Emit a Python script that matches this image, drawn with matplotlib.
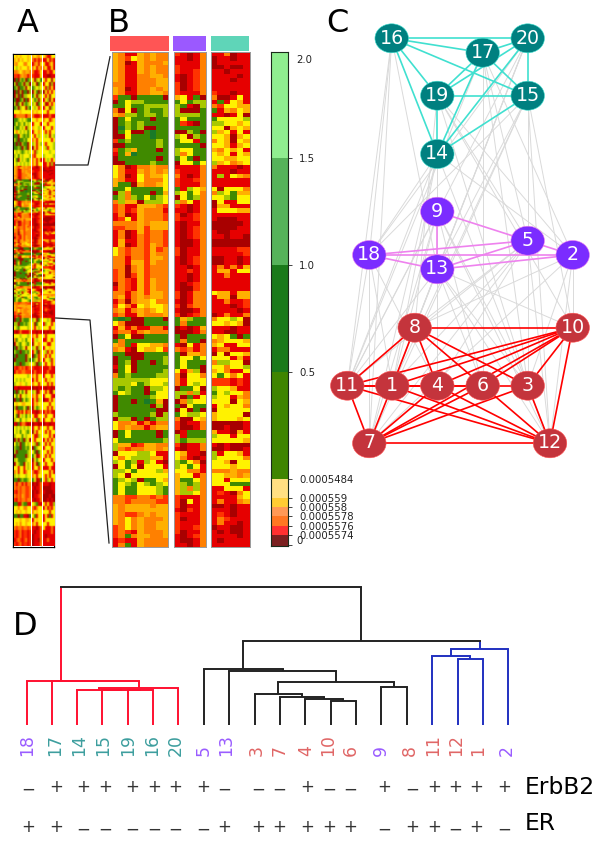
import numpy as np
import matplotlib
matplotlib.use("Agg")
import matplotlib.pyplot as plt
from matplotlib.colors import ListedColormap
from matplotlib.patches import Ellipse, Rectangle

# heat levels: 0 dark red ... 5 yellow ... 8 dark green
level_colors = ["#A80000", "#E60000", "#FF3300", "#FF8000", "#FFB000", "#FFF200", "#A8C800", "#408A00", "#1A7A28"]

# zoomed block B, one row = "9 cols 5 cols 6 cols"
b_rows = [
    "431143433 21013 113011", "432543433 11013 011011", "430143334 11113 011111", "431143433 21113 001001",
    "431143433 21123 110111", "431133443 10123 111101", "431133344 10123 111011", "331133344 20123 111111",
    "430133434 20123 111111", "431133443 21113 211011", "277077770 45170 300151", "075667777 75766 171541",
    "775776666 67106 325544", "305076776 60007 714354", "436676676 66667 110150", "075777077 75777 755556",
    "076767777 72107 665545", "086760077 77777 550454", "075007877 00670 645151", "005777877 65067 554045",
    "276777767 75517 354054", "007777767 77770 554145", "276477707 65577 435451", "174877777 63577 545154",
    "077777707 75707 554455", "007777677 05575 645345", "530133433 11113 311101", "531143434 21113 111011",
    "530153445 31013 161543", "431153335 21123 111111", "477043345 21113 111111", "775777775 71654 505553",
    "063777074 65753 365744", "763675765 05763 556755", "364406665 63513 051155", "231144432 21013 044111",
    "231243331 11013 155544", "130143332 20123 111111", "125143332 21123 100011", "333343444 10113 000001",
    "223342444 10123 000011", "130142332 10123 100111", "130132332 10123 110110", "141132332 10013 000000",
    "140132432 10013 000000", "532332423 20113 111122", "532332433 20113 111112", "331332443 10123 001101",
    "331442433 10123 001101", "330342333 11013 131314", "230342333 11213 144155", "230242333 11013 113111",
    "232142433 11013 111111", "032142433 10123 111111", "132142433 10023 111111", "331342443 20133 544144",
    "341343443 20133 144044", "130344533 10133 113112", "253154554 20233 111012", "341343454 10013 111101",
    "231143334 20123 013113", "787007770 74677 355650", "530007777 73777 554540", "141311331 01014 111011",
    "233134333 00013 110011", "075007777 70777 545707", "737777777 73770 345554", "437155443 10513 451155",
    "341054452 32313 133111", "770007777 70443 050554", "077007776 75575 555141", "076077076 75777 366550",
    "175077777 75770 553556", "075077776 51460 453115", "376777766 30553 575351", "666666555 31555 222121",
    "666576556 31565 222121", "676770665 07750 655411", "756770755 66361 756553", "077777655 60715 655143",
    "077078740 03655 555054", "077777060 70577 154553", "077777700 05070 055555", "677777606 75665 455550",
    "066070766 30054 455545", "533413133 20113 000001", "534331344 20013 001001", "075777707 01777 411041",
    "075777707 61777 655155", "577777776 67666 555554", "644124433 20113 101000", "632334434 10113 001001",
    "055566511 54110 615541", "535666441 53101 655553", "657616510 67530 554055", "057505551 65751 555455",
    "665755564 55331 333433", "650555555 45513 554434", "765607754 47753 551555", "756756765 46763 555777",
    "757755567 46363 115551", "757755567 46653 121035", "332233232 21113 111145", "332333322 20513 131134",
    "434444344 20113 001011", "434444444 10213 111011", "432234344 21113 121011", "435343334 20113 132111",
    "435343344 21113 131101", "235343344 21123 011001", "232143334 20113 101001", "237344334 10123 111101",
    "121143333 10013 101111", "137143333 11013 111111",
]

# block A is the whole table, B is its middle part; these rows are read at a third of the resolution
a_top_rows = [
    "545455545 45435 531155", "453545545 31313 115131", "435553355 13415 511351", "565455535 35143 351151",
    "334543443 31125 113115", "221343313 21115 110011", "070676076 50657 515505", "607760660 65075 155061",
    "760776056 76565 516151", "070607706 05706 051515", "060706655 75065 515055", "700760705 57605 156051",
    "607506765 65075 501515", "760655067 56515 155065", "555455555 45455 551555", "133333133 31113 111311",
    "776565677 55355 355135", "757657565 15551 551555", "677565065 45565 155515", "535656575 15535 515155",
    "770567675 51565 565056", "670776755 35155 555515", "707067705 65156 515556", "776706705 05155 561556",
    "565676565 51655 555655", "657565556 31555 655556", "570565675 35151 156515", "565656565 35155 115161",
]
a_bottom_rows = [
    "077067775 65075 556501", "660776765 50755 165515", "567555565 51565 555155", "101311113 11011 010110",
    "555655565 35155 515555", "375565755 15655 115515", "056755675 05535 551155", "706765055 65065 155455",
    "677077675 15705 561515", "707777065 07615 515155", "077777067 76505 155615", "677077665 56076 515515",
    "212323123 21112 111311", "132233222 13112 113111", "555555565 35155 155515", "565656555 15155 515455",
    "655455655 35515 551515", "110111111 01011 101101", "707575055 65015 515105", "575055655 35155 155511",
    "077075765 15165 011515", "545544555 15355 555155", "607775706 05765 551515", "531315133 11013 131311",
    "570565756 51155 515551", "655755655 35715 155515", "107133101 01101 011011", "565656565 15515 551551",
    "565755675 05155 515155", "655575655 51165 555151", "060670650 51555 151515", "576077565 56175 515155",
    "677077675 07655 155515", "607777765 57075 551515", "077777065 75015 515155", "657777655 05755 155515",
    "056770565 15075 515551", "551551565 15515 111511", "351551355 31135 555151", "656555655 35155 515155",
    "770767765 75017 516515", "313313133 01013 111011", "323233223 10113 000011", "213233223 01013 100001",
    "323243223 01123 000100", "213233233 10113 001010", "771167711 56711 515116", "553553355 31355 151315",
    "545455455 35455 555155", "770771107 57155 151715", "555455445 15455 155555", "545355455 35155 551555",
    "323323323 11013 511131", "212312212 10113 111131", "212312212 01113 101111", "123212312 01103 113111",
    "212312212 01113 111111",
]

# colour bar
cbar_colors = ["#7B2020", "#FF3030", "#FF7722", "#FF9955", "#FFCC33", "#FFE082", "#3F8500", "#1A7A1A", "#56B35A", "#90EE90"]
cbar_edges = [0, 11, 20, 30, 39, 48, 67, 174, 281, 388, 494]
cbar_ticks = [1, 11, 20, 30, 39, 48, 67, 174, 281, 388]
cbar_labels = ["", "0.0005574", "0.0005576", "0.0005578", "0.000558", "0.000559", "0.0005484", "0.5", "1.0", "1.5"]

# network
nodes = ["16", "20", "17", "19", "15", "14", "9", "5", "18", "2", "13", "8", "10", "11", "1", "4", "6", "3", "7", "12"]
node_x = [391.7, 527.7, 482.7, 437.3, 527.7, 437.3, 437.3, 527.7, 369.3, 572.7, 437.3, 414.7, 572.7, 347.3, 392.3, 437.3, 482.7, 527.7, 369.3, 550]
node_y = [38.3, 38.3, 52.7, 95.7, 95.7, 154, 211.7, 240.7, 255, 255, 269.3, 327.7, 327.7, 385.7, 385.7, 385.7, 385.7, 385.7, 443.3, 443.3]
group_teal = ["16", "20", "17", "19", "15", "14"]
group_purple = ["9", "5", "18", "2", "13"]

teal_edges = ["16-20", "16-17", "16-19", "16-15", "16-14", "20-17", "20-19", "20-15", "20-14", "17-19", "17-15", "17-14", "19-15", "19-14", "15-14"]
purple_edges = ["9-5", "9-13", "18-5", "18-13", "18-2", "5-2", "5-13", "13-2"]
red_edges = ["8-10", "8-11", "8-1", "8-4", "8-6", "8-3", "10-11", "10-1", "10-4", "10-6", "10-3", "10-7", "10-12",
             "11-1", "11-4", "11-6", "11-7", "11-12", "1-4", "1-7", "1-12", "4-6", "4-7", "4-12",
             "6-3", "6-7", "6-12", "3-7", "3-12", "7-12"]
gray_edges = ["16-18", "16-13", "16-7", "16-11", "19-2", "19-5", "19-10", "19-8", "19-3", "14-18", "14-11", "14-1",
              "14-4", "14-7", "14-12", "14-13", "14-2", "14-9", "15-18", "15-10", "15-12", "15-13", "15-3", "15-7",
              "15-1", "20-13", "20-18", "20-8", "20-11", "20-1", "17-5", "17-2", "17-3", "17-6", "17-11",
              "9-11", "9-1", "9-6", "9-3", "9-12", "9-7", "5-11", "5-7", "5-8", "5-12", "5-4", "5-1",
              "13-10", "13-12", "13-11", "13-8", "13-4", "13-6", "13-3", "13-1",
              "18-11", "18-7", "18-1", "18-4", "2-10", "2-8", "2-3", "2-7", "2-12"]

# dendrogram: leaf order, then merges as left, right, height, colour
leaves = ["18", "17", "14", "15", "19", "16", "20", "5", "13", "3", "7", "4", "10", "6", "9", "8", "11", "12", "1", "2"]
leaf_x = [26.7, 52, 77, 102.3, 127.7, 153, 178, 204, 229.3, 254.7, 280, 305, 330.7, 356, 381.3, 406.7, 432, 457.7, 483, 508]
label_x = [26.7, 55, 79, 103, 128, 152, 176, 204, 226, 257, 280, 306, 328, 351, 381, 410, 433, 456, 478, 507]
merges = [
    ("19", "16", 34.5, "#FF1030", "r1"), ("15", "r1", 34.7, "#FF1030", "r2"), ("14", "r2", 35, "#FF1030", "r3"),
    ("r3", "20", 36.3, "#FF1030", "r4"), ("17", "r4", 43.8, "#FF1030", "r5"), ("18", "r5", 44, "#FF1030", "r6"),
    ("10", "6", 23.5, "#222222", "k1"), ("4", "k1", 25.2, "#222222", "k2"), ("7", "k2", 27.8, "#222222", "k3"),
    ("3", "k3", 30.8, "#222222", "k4"), ("9", "8", 37.8, "#222222", "k5"), ("k4", "k5", 42.8, "#222222", "k6"),
    ("13", "k6", 54, "#222222", "k7"), ("5", "k7", 55.5, "#222222", "k8"),
    ("12", "1", 65.5, "#2030C0", "b1"), ("11", "b1", 68.5, "#2030C0", "b2"), ("b2", "2", 75.2, "#2030C0", "b3"),
    ("k8", "b3", 83.2, "#222222", "t1"), ("r6", "t1", 137.2, "#222222", "t2"),
]

leaf_colors = {"purple": "#9A5CFF", "teal": "#3D9E9E", "red": "#E06666"}

erbb2 = "-+++++++--" + "-+--+-++++"
er = "++------++" + "++++-++-+-"
sign_x = [28, 55.7, 83.3, 104.7, 132, 153.7, 175.3, 202.7, 224, 258, 279.3, 307.3, 328.7, 350, 384, 412, 433.7, 455, 476, 504]

plt.rcParams["font.family"] = "DejaVu Sans"
W, H = 600, 848
fig = plt.figure(figsize=(6, 8.48), dpi=100)


def pixel_axes(x0, y0, x1, y1):
    ax = fig.add_axes([x0 / W, 1 - y1 / H, (x1 - x0) / W, (y1 - y0) / H])
    ax.set_xticks([])
    ax.set_yticks([])
    return ax


def to_block(rows, k):
    return np.array([[int(c) for c in r.split()[k]] for r in rows])


cmap = ListedColormap(level_colors)


def draw_block(ax, arr, smooth=False):
    ax.imshow(arr, cmap=cmap, vmin=0, vmax=8, aspect="auto",
              interpolation="gaussian" if smooth else "nearest", interpolation_stage="rgba")


# panel A
frame = pixel_axes(13.3, 54, 54, 547)
for s in frame.spines.values():
    s.set_linewidth(0.9)
    s.set_color("black")
a_spans = [(13.8, 30.4), (31.8, 41.2), (42.6, 53.6)]
for k, (x0, x1) in enumerate(a_spans):
    whole = np.vstack([np.repeat(to_block(a_top_rows, k), 3, axis=0),
                       to_block(b_rows, k),
                       np.repeat(to_block(a_bottom_rows, k), 3, axis=0)])
    ax = pixel_axes(x0, 54.5, x1, 546.5)
    draw_block(ax, whole, smooth=True)
    for s in ax.spines.values():
        s.set_visible(False)

# panel B
b_spans = [(111.7, 168.3), (173.7, 205.7), (211, 249.7)]
for k, (x0, x1) in enumerate(b_spans):
    ax = pixel_axes(x0, 52.3, x1, 547.3)
    draw_block(ax, to_block(b_rows, k))
    for s in ax.spines.values():
        s.set_color("#999999")
        s.set_linewidth(0.7)

# colour bar
cax = pixel_axes(271, 52, 288, 546)
for i, c in enumerate(cbar_colors):
    cax.bar(0.5, cbar_edges[i + 1] - cbar_edges[i], width=1, bottom=cbar_edges[i], color=c)
cax.set_xlim(0, 1)
cax.set_ylim(0, 494)
cax.yaxis.tick_right()
cax.set_yticks(cbar_ticks)
cax.set_yticklabels(cbar_labels, fontsize=7.3, color="#222222")
cax.tick_params(axis="y", length=3, width=0.7, pad=5, color="#444444")
for s in cax.spines.values():
    s.set_linewidth(0.8)
    s.set_color("#1A2A1A")

# everything else in pixel positions on one overlay
ov = fig.add_axes([0, 0, 1, 1], facecolor="none")
ov.set_xlim(0, W)
ov.set_ylim(H, 0)
ov.axis("off")

for x, y, t in [(17, 32, "A"), (108, 32, "B"), (326, 32, "C"), (13, 635, "D")]:
    ov.text(x, y, t, fontsize=23, ha="left", va="baseline", color="black")
ov.text(296, 60, "2.0", fontsize=7.3, va="center", color="#222222")
ov.text(296, 540.5, "0", fontsize=7.3, va="center", color="#222222")

ov.plot([55.7, 88, 110], [165, 165, 56.7], color="#222222", lw=0.9)
ov.plot([55.7, 90, 109], [318, 320, 543], color="#222222", lw=0.9)

bar_spans = [(110, 168.5, "#FF5555"), (173, 205.5, "#9B59FF"), (210.5, 249, "#5FD5B8")]
for x0, x1, c in bar_spans:
    ov.add_patch(Rectangle((x0, 36), x1 - x0, 14.7, facecolor=c, edgecolor="none"))

pos = {n: (x, y) for n, x, y in zip(nodes, node_x, node_y)}


def draw_edges(edges, color, lw):
    for e in edges:
        a, b = e.split("-")
        ov.plot([pos[a][0], pos[b][0]], [pos[a][1], pos[b][1]], color=color, lw=lw, zorder=2, solid_capstyle="round")


draw_edges(gray_edges, "#DADADA", 0.7)
draw_edges(teal_edges, "#40E0D0", 1.2)
draw_edges(purple_edges, "#EE82EE", 1.2)
draw_edges(red_edges, "#FF0000", 1.2)

for n in nodes:
    if n in group_teal:
        fc, ec = "#008080", "#40E0D0"
    elif n in group_purple:
        fc, ec = "#7B2CFF", "#EE82EE"
    else:
        fc, ec = "#C4343C", "#FF5050"
    ov.add_patch(Ellipse(pos[n], 33.5, 29, facecolor=fc, edgecolor=ec, lw=0.4, zorder=3))
    ov.text(pos[n][0], pos[n][1] - 0.3, n, color="white", fontsize=13.7, ha="center", va="center", zorder=4)

# dendrogram
dax = pixel_axes(0, 584.5, 600, 724.5)
dax.set_xlim(0, W)
dax.set_ylim(0, 140)
dax.patch.set_alpha(0)
dax.axis("off")
node_pos = {n: (x, 0, None) for n, x in zip(leaves, leaf_x)}
for left, right, h, color, name in merges:
    xl, yl, cl = node_pos[left]
    xr, yr, cr = node_pos[right]
    dax.plot([xl, xl], [yl, h], color=cl or color, lw=1.4, solid_capstyle="butt")
    dax.plot([xr, xr], [yr, h], color=cr or color, lw=1.4, solid_capstyle="butt")
    dax.plot([xl, xr], [h, h], color=color, lw=1.4, solid_capstyle="projecting")
    node_pos[name] = ((xl + xr) / 2, h, color)

for n, x in zip(leaves, label_x):
    if n in group_teal:
        c = leaf_colors["teal"]
    elif n in group_purple:
        c = leaf_colors["purple"]
    else:
        c = leaf_colors["red"]
    ov.text(x, 756, n, rotation=90, fontsize=12.4, color=c, ha="center", va="bottom")

for row_y, signs in [(787, erbb2), (827, er)]:
    for x, s in zip(sign_x, signs):
        if s == "+":
            ov.text(x, row_y, "+", fontsize=12, color="#333333", ha="center", va="center")
        else:
            ov.text(x, row_y + 3, "\u2212", fontsize=12, color="#333333", ha="center", va="center")

ov.text(525, 787, "ErbB2", fontsize=16.8, color="black", va="center", ha="left")
ov.text(525, 823, "ER", fontsize=16.8, color="black", va="center", ha="left")

fig.savefig("out.png", dpi=100)
